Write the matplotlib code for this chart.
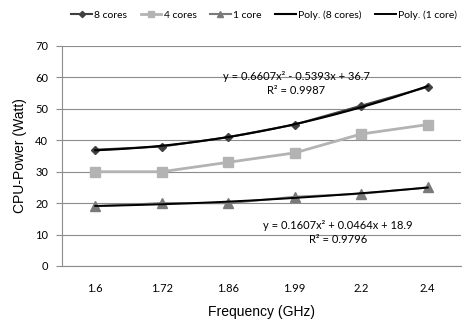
import numpy as np
import matplotlib
matplotlib.use("Agg")
import matplotlib.pyplot as plt

categories = ["1.6", "1.72", "1.86", "1.99", "2.2", "2.4"]
cores8 = [37, 38, 41, 45, 51, 57]
cores4 = [30, 30, 33, 36, 42, 45]
cores1 = [19, 20, 20, 22, 23, 25]
poly8 = [0.6607, -0.5393, 36.7]
poly1 = [0.1607, 0.0464, 18.9]
r2_8 = 0.9987
r2_1 = 0.9796

W, H = 474, 327
fig = plt.figure(figsize=(W / 100, H / 100), dpi=100)
ax = fig.add_axes([62 / W, 1 - 266 / H, (461 - 62) / W, (266 - 46) / H])

x = np.arange(1, len(categories) + 1)
xs = np.linspace(1, len(categories), 200)

l8, = ax.plot(x, cores8, color="#404040", lw=1.5, marker="D", ms=4.5, label="8 cores", zorder=3)
l4, = ax.plot(x, cores4, color="#b3b3b3", lw=2, marker="s", ms=6.5, label="4 cores", zorder=3)
l1, = ax.plot(x, cores1, color="#7a7a7a", lw=1.5, marker="^", ms=6.5, label="1 core", zorder=3)
p8, = ax.plot(xs, np.polyval(poly8, xs), color="black", lw=1.5, label="Poly. (8 cores)", zorder=4)
p1, = ax.plot(xs, np.polyval(poly1, xs), color="black", lw=1.4, label="Poly. (1 core)", zorder=4)

ax.set_xlim(0.5, len(categories) + 0.5)
ax.set_ylim(0, 70)
ax.set_yticks(range(0, 71, 10))
ax.set_xticks(x)
ax.set_xticklabels(categories)
ax.grid(axis="y", color="#8c8c8c", lw=0.8)
ax.set_axisbelow(True)
for s in ["top", "right"]:
    ax.spines[s].set_visible(False)
ax.spines["left"].set_color("#8c8c8c")
ax.spines["bottom"].set_color("#8c8c8c")
ax.tick_params(axis="y", length=4, color="#8c8c8c", labelsize=8, pad=6)
ax.tick_params(axis="x", length=0, labelsize=8, pad=12)
for lab in ax.get_xticklabels() + ax.get_yticklabels():
    lab.set_family("Lato")

ax.set_ylabel("CPU-Power (Watt)", fontsize=10, family="Liberation Sans", labelpad=6)
ax.set_xlabel("Frequency (GHz)", fontsize=10, family="Liberation Sans", labelpad=8)

def fmt(c):
    a, b, d = c
    sb = "-" if b < 0 else "+"
    return f"y = {a}x\u00b2 {sb} {abs(b)}x + {d}"

tk = dict(ha="center", va="center", fontsize=8, family="Lato")
ax.text(4.02, 60.2, fmt(poly8), **tk)
ax.text(4.02, 55.8, f"R\u00b2 = {r2_8}", **tk)
ax.text(4.65, 12.8, fmt(poly1), **tk)
ax.text(4.65, 8.4, f"R\u00b2 = {r2_1}", **tk)

fig.legend(handles=[l8, l4, l1, p8, p1], loc="center", bbox_to_anchor=(264 / W, 1 - 15 / H),
           ncol=5, frameon=False, prop={"family": "Lato", "size": 7.5},
           handlelength=2.0, handletextpad=0.2, columnspacing=1.3, markerscale=0.7)

fig.savefig("out.png", dpi=100)
